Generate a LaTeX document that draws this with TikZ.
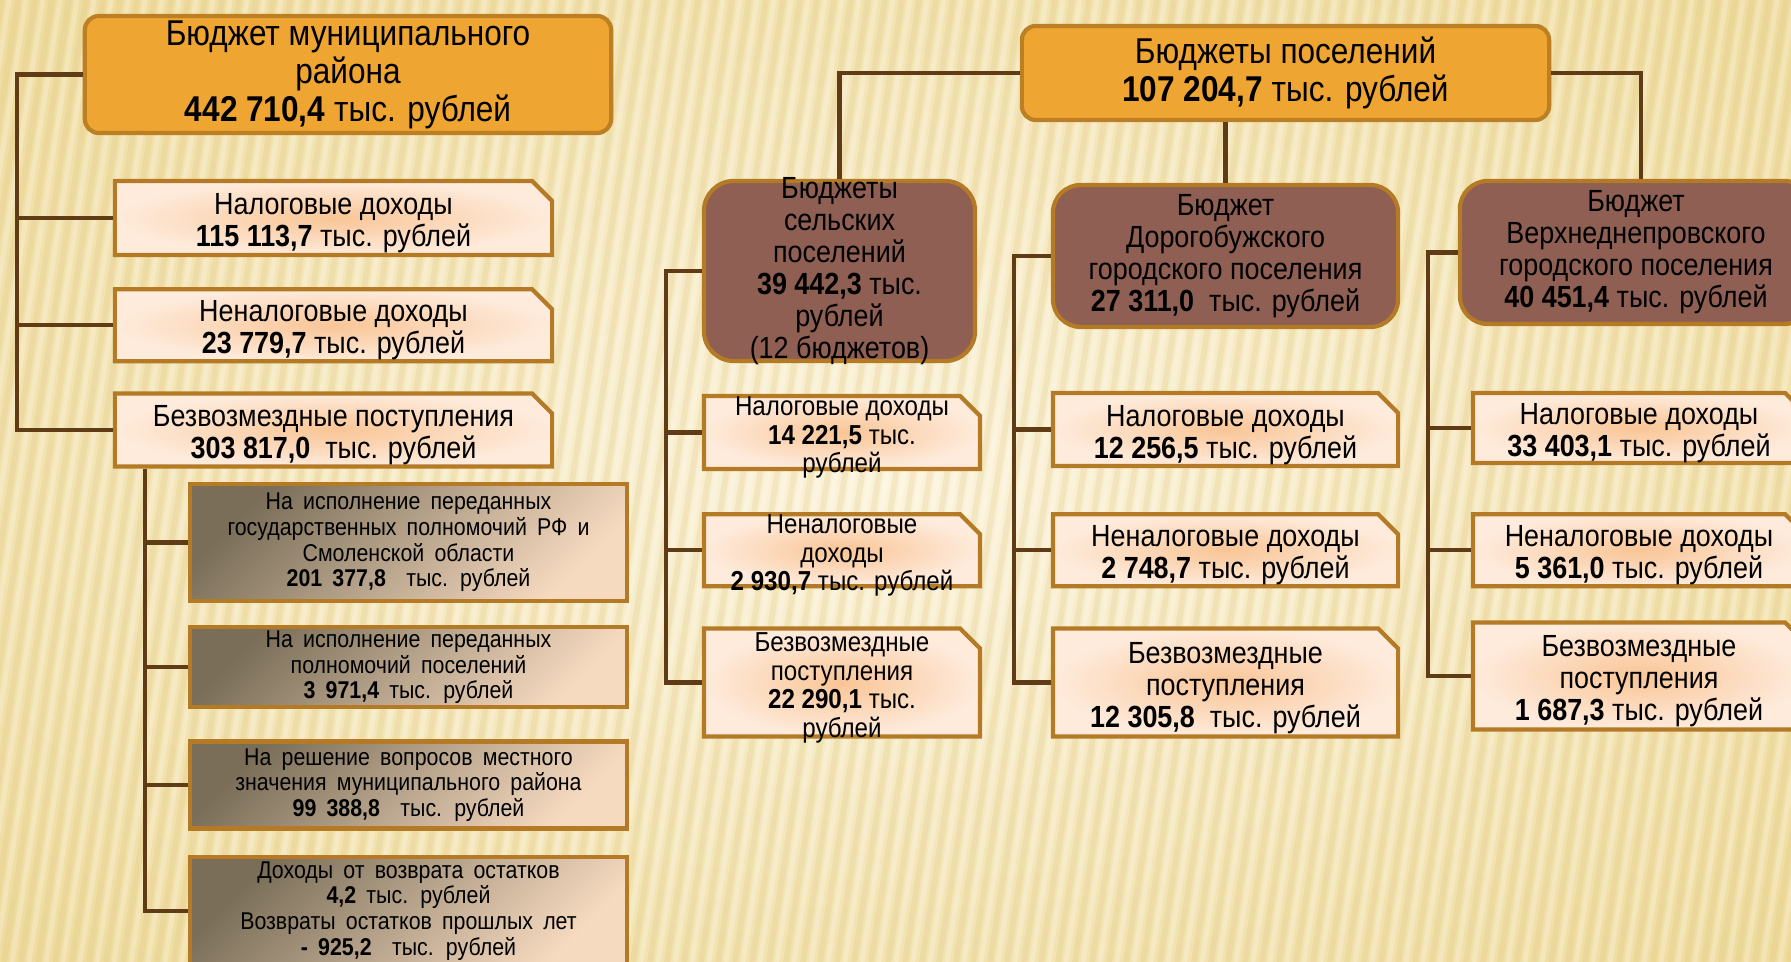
\documentclass[tikz,border=0pt]{standalone}
\usepackage{fontspec}
\setmainfont[FakeStretch=0.88]{Liberation Sans}
\usepackage{tikz}
\usetikzlibrary{positioning, shapes.misc}
\definecolor{paper}{HTML}{EFDC9E}
\definecolor{paperlight}{HTML}{FBF3DA}
\definecolor{stripe}{HTML}{DCC27C}
\definecolor{headfill}{HTML}{EEA532}
\definecolor{headline}{HTML}{BD7F24}
\definecolor{brownfill}{HTML}{8E5F52}
\definecolor{frame}{HTML}{B47A26}
\definecolor{peach}{HTML}{FEEBDC}
\definecolor{peachglow}{HTML}{F9C596}
\definecolor{slate}{HTML}{7A6E58}
\definecolor{sand}{HTML}{F6DAC0}
\definecolor{wire}{HTML}{5F3B16}

\begin{document}
\begin{tikzpicture}[
  x=0.01cm, y=-0.01cm,
  head/.style={rectangle, rounded corners=0.14cm, draw=headline, fill=headfill,
               line width=1.2pt, align=center, inner ysep=-5mm,
               font=\fontsize{10.2}{10.8}\selectfont},
  settle/.style={rectangle, rounded corners=0.28cm, draw=frame, fill=brownfill,
                 line width=1.2pt, align=center, inner ysep=-5mm,
                 font=\fontsize{8.7}{9.1}\selectfont},
  item/.style={chamfered rectangle, chamfered rectangle corners=north east,
               chamfered rectangle xsep=0.1cm, chamfered rectangle ysep=0.1cm,
               inner sep=0.15cm, draw=frame, line width=1.2pt,
               inner color=peachglow, outer color=peach},
  itemtext/.style={align=center, yshift=-1.5pt, font=\fontsize{8.7}{9.1}\selectfont},
  smalltext/.style={itemtext, font=\fontsize{7.8}{8.1}\selectfont},
  transfer/.style={rectangle, draw=frame, line width=1.2pt, top color=slate,
                   bottom color=sand, shading angle=45, align=center, inner ysep=-5mm,
                   minimum width=4.37cm, font=\fontsize{6.9}{7.3}\selectfont,
                   execute at begin node={\spaceskip=0.42em\relax}},
  conn/.style={draw=wire, line width=1.2pt}
]

% Background
\useasboundingbox (0,0) rectangle (1791,962);
\clip (0,0) rectangle (1791,962);
\shade[inner color=paperlight, outer color=paper] (-300,-200) rectangle (2091,1162);
\foreach \s in {-200,-183,...,1800} {
  \draw[stripe, line width=0.06cm, opacity=0.22] (\s,962) -- (\s+150,0);
  \draw[white, line width=0.05cm, opacity=0.25] (\s+8,962) -- (\s+158,0);
}

% Municipal district
\node[head, minimum width=5.26cm, minimum height=1.17cm] (munic) at (348,74.5)
  {Бюджет муниципального\\района\\\textbf{442 710,4} тыс. рублей};
\node[item, minimum width=4.37cm, minimum height=0.74cm,
      label={[itemtext]center:{Налоговые доходы\\\textbf{115 113,7} тыс. рублей}}] (mtax) at (333.5,218) {};
\node[item, minimum width=4.37cm, minimum height=0.72cm, below=0.30cm of mtax,
      label={[itemtext]center:{Неналоговые доходы\\\textbf{23 779,7} тыс. рублей}}] (mnontax) {};
\node[item, minimum width=4.37cm, minimum height=0.73cm, below=0.28cm of mnontax,
      label={[itemtext]center:{Безвозмездные поступления\\\textbf{303 817,0}\ \ тыс. рублей}}] (mfree) {};

% Transfers
\node[transfer, minimum height=1.17cm] (tstate) at (408.5,542.5)
  {На исполнение переданных\\государственных полномочий РФ и\\Смоленской области\\\textbf{201 377,8}\ \ тыс. рублей};
\node[transfer, minimum height=0.80cm, below=0.22cm of tstate] (tsettle)
  {На исполнение переданных\\полномочий поселений\\\textbf{3 971,4} тыс. рублей};
\node[transfer, minimum height=0.87cm, below=0.30cm of tsettle] (tlocal)
  {На решение вопросов местного\\значения муниципального района\\\textbf{99 388,8}\ \ тыс. рублей};
\node[transfer, minimum height=1.08cm, below=0.24cm of tlocal] (treturn)
  {Доходы от возврата остатков\\\textbf{4,2} тыс. рублей\\Возвраты остатков прошлых лет\\\textbf{- 925,2}\ \ тыс. рублей};

% Settlements
\node[head, minimum width=5.27cm, minimum height=0.94cm] (posel) at (1285.5,73)
  {Бюджеты поселений\\\textbf{107 204,7} тыс. рублей};
\node[settle, minimum width=2.71cm, minimum height=1.80cm, rounded corners=0.3cm] (rural) at (839.5,271)
  {Бюджеты\\сельских\\поселений\\\textbf{39 442,3} тыс.\\рублей\\(12 бюджетов)};
\node[settle, minimum width=3.45cm, minimum height=1.42cm] (dorog) at (1225.5,256)
  {Бюджет\\Дорогобужского\\городского поселения\\\textbf{27 311,0}\ \ тыс. рублей};
\node[settle, minimum width=3.52cm, minimum height=1.43cm] (verkh) at (1636,252.5)
  {Бюджет\\Верхнеднепровского\\городского поселения\\\textbf{40 451,4} тыс. рублей};

% Rural
\node[item, minimum width=2.76cm, minimum height=0.73cm,
      label={[smalltext]center:{Налоговые доходы\\\textbf{14 221,5} тыс.\\рублей}}] (rtax) at (842,432.5) {};
\node[item, minimum width=2.76cm, minimum height=0.72cm, below=0.41cm of rtax,
      label={[smalltext]center:{Неналоговые\\доходы\\\textbf{2 930,7} тыс. рублей}}] (rnontax) {};
\node[item, minimum width=2.76cm, minimum height=1.08cm, below=0.38cm of rnontax,
      label={[smalltext]center:{Безвозмездные\\поступления\\\textbf{22 290,1} тыс.\\рублей}}] (rfree) {};

% Dorogobuzh
\node[item, minimum width=3.45cm, minimum height=0.73cm,
      label={[itemtext]center:{Налоговые доходы\\\textbf{12 256,5} тыс. рублей}}] (dtax) at (1225.5,429.5) {};
\node[item, minimum width=3.45cm, minimum height=0.72cm, below=0.44cm of dtax,
      label={[itemtext]center:{Неналоговые доходы\\\textbf{2 748,7} тыс. рублей}}] (dnontax) {};
\node[item, minimum width=3.45cm, minimum height=1.08cm, below=0.38cm of dnontax,
      label={[itemtext]center:{Безвозмездные\\поступления\\\textbf{12 305,8}\ \ тыс. рублей}}] (dfree) {};

% Verkhnedneprovsky
\node[item, minimum width=3.32cm, minimum height=0.70cm,
      label={[itemtext]center:{Налоговые доходы\\\textbf{33 403,1} тыс. рублей}}] (vtax) at (1639,428) {};
\node[item, minimum width=3.32cm, minimum height=0.72cm, below=0.47cm of vtax,
      label={[itemtext]center:{Неналоговые доходы\\\textbf{5 361,0} тыс. рублей}}] (vnontax) {};
\node[item, minimum width=3.32cm, minimum height=1.07cm, below=0.32cm of vnontax,
      label={[itemtext]center:{Безвозмездные\\поступления\\\textbf{1 687,3} тыс. рублей}}] (vfree) {};

% Buses
\coordinate (busM) at (17,0);
\coordinate (busT) at (145,0);
\coordinate (busR) at (666,0);
\coordinate (busD) at (1014,0);
\coordinate (busV) at (1428,0);

% Connectors
\draw[conn] (munic.west) -| (busM |- mfree.west) -- (mfree.west);
\foreach \n in {mtax, mnontax} \draw[conn] (busM |- \n.west) -- (\n.west);
\draw[conn] (mfree.south -| busT) |- (treturn.west);
\foreach \n in {tstate, tsettle, tlocal} \draw[conn] (busT |- \n.west) -- (\n.west);

\draw[conn] (posel.west) -| (rural.north);
\draw[conn] (posel.south -| dorog.north) -- (dorog.north);
\draw[conn] (posel.east) -| ([xshift=0.05cm]verkh.north);

\draw[conn] (rural.west) -| (busR |- rfree.west) -- (rfree.west);
\foreach \n in {rtax, rnontax} \draw[conn] (busR |- \n.west) -- (\n.west);
\draw[conn] (dorog.west) -| (busD |- dfree.west) -- (dfree.west);
\foreach \n in {dtax, dnontax} \draw[conn] (busD |- \n.west) -- (\n.west);
\draw[conn] (verkh.west) -| (busV |- vfree.west) -- (vfree.west);
\foreach \n in {vtax, vnontax} \draw[conn] (busV |- \n.west) -- (\n.west);

\end{tikzpicture}
\end{document}
